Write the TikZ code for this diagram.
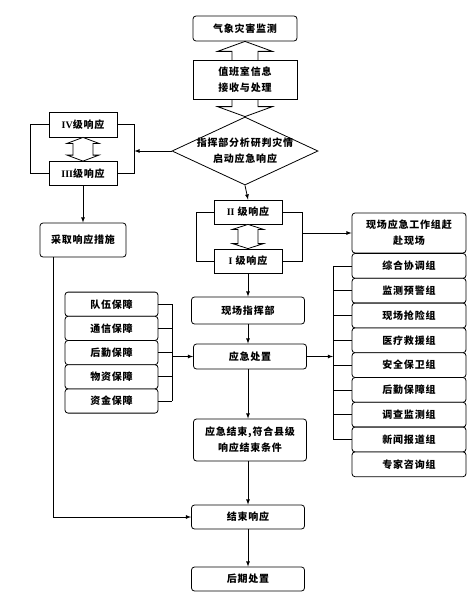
\documentclass[tikz,border=0pt]{standalone}
\usepackage{fontspec}
\setmainfont{Liberation Serif}
\newfontfamily\cjk{Noto Sans CJK SC}[LetterSpace=8]
\usetikzlibrary{shapes.geometric,calc}

% hollow arrow with a head at both ends
\newcommand{\dblarrow}[5]{%
  \draw[fill=white] (#1) -- ++(-#3,#5) -- ++(#3-#4,0) -- ($(#2)+(-#4,-#5)$)
    -- ++(#4-#3,0) -- (#2) -- ++(#3,-#5) -- ++(#4-#3,0) -- ($(#1)+(#4,#5)$)
    -- ++(#3-#4,0) -- cycle;}

\begin{document}
\begin{tikzpicture}[x=1pt,y=-1pt,line width=0.8pt,>=latex,
    box/.style={draw,fill=white,inner sep=0pt,align=center,
      font=\fontsize{10}{16}\selectfont\cjk\bfseries},
    rbox/.style={box,rounded corners=3pt}]
        \useasboundingbox (0,0) rectangle (475,602);

        \node[rbox,minimum width=104pt,minimum height=25pt] (M) at (245,28.5) {气象灾害监测};
        \node[draw,diamond,minimum width=146pt,minimum height=68pt,inner sep=0pt] (D) at (245,151) {};
        \node[box,draw=none,fill=none] (Dt) at (D) {指挥部分析研判灾情\\启动应急响应};

        \dblarrow{M.south}{D.north}{27.5}{13}{10}
        \node[box,minimum width=104pt,minimum height=39pt] (W) at (245,79.5) {值班室信息\\接收与处理};

        %############################################

        \node[box,minimum width=68pt,minimum height=25pt] (L4) at (83,124.5) {{\rmfamily\bfseries IV}级响应};
        \node[box,minimum width=68pt,minimum height=24pt] (L3) at (83,173.5) {{\rmfamily\bfseries III}级响应};
        \node[rbox,minimum width=86pt,minimum height=34pt] (T) at (83,240) {采取响应措施};

        \dblarrow{L4.south}{L3.north}{16}{10}{6}
        \draw (L4.west) -- ++(-18,0) |- (L3.west);
        \draw (L4.east) -- ++(17,0) coordinate (b43) |- (L3.east);
        \draw[->] (D.west) -- (D.west -| b43);
        \draw[->] (L3.south) -- (T.north);

        %############################################

        \node[box,minimum width=68pt,minimum height=24pt] (L2) at (248,212) {{\rmfamily\bfseries II} 级响应};
        \node[box,minimum width=68pt,minimum height=24pt] (L1) at (248,261) {{\rmfamily\bfseries I} 级响应};

        \dblarrow{L2.south}{L1.north}{15.5}{10}{5}
        \draw (L2.west) -- ++(-17,0) |- (L1.west);
        \draw (L2.east) -- ++(20,0) coordinate (b21) |- (L1.east);
        \draw[->] (D.south) -- (L2.north);

        \node[rbox,minimum width=114pt,minimum height=40pt] (G) at (409,233) {现场应急工作组赶\\赴现场};
        \draw[->] (b21 |- G.west) -- (G.west);

        %############################################

        \node[rbox,minimum width=113pt,minimum height=27pt] (Z) at (248,310.5) {现场指挥部};
        \node[rbox,minimum width=113pt,minimum height=25pt] (C) at (250,356.5) {应急处置};
        \node[rbox,minimum width=113pt,minimum height=42pt] (E) at (250,440) {应急结束,符合县级\\响应结束条件};
        \node[rbox,minimum width=113pt,minimum height=24pt] (F) at (248,517) {结束响应};
        \node[rbox,minimum width=113pt,minimum height=24pt] (H) at (248,579) {后期处置};

        \draw[->] (L1.south) -- (Z.north);
        \draw[->] (Z.south) -- (Z.south |- C.north);
        \draw[->] (C.south -| F.north) -- (E.north -| F.north);
        \draw[->] (E.south -| F.north) -- (F.north);
        \draw[->] (F.south) -- (H.north);
        \draw[->] ([xshift=-30pt]T.south) |- (F.west);

        %############################################

        \coordinate (sb) at (172,0);
        \foreach \i/\txt in {1/队伍保障,2/通信保障,3/后勤保障,4/物资保障,5/资金保障} {
          \node[rbox,minimum width=93pt,minimum height=24.2pt] (s\i) at (111.5,280+24.2*\i) {\txt};
          \draw (s\i.east) -- (s\i.east -| sb);
        }
        \draw (s1.east -| sb) -- (s5.east -| sb);
        \draw[->] (C.west -| sb) -- (C.west);

        \coordinate (gb) at (333,0);
        \foreach \i/\txt in {1/综合协调组,2/监测预警组,3/现场抢险组,4/医疗救援组,5/安全保卫组,6/后勤保障组,7/调查监测组,8/新闻报道组,9/专家咨询组} {
          \node[rbox,minimum width=114pt,minimum height=24.8pt] (g\i) at (409,241.1+24.8*\i) {\txt};
        }
        \foreach \i in {1,...,8} {
          \draw (g\i.west) -- (g\i.west -| gb);
        }
        \draw (g1.west -| gb) -- (g8.west -| gb);
        \draw[->] (C.east) -- (C.east -| gb);
    \end{tikzpicture}
\end{document}
